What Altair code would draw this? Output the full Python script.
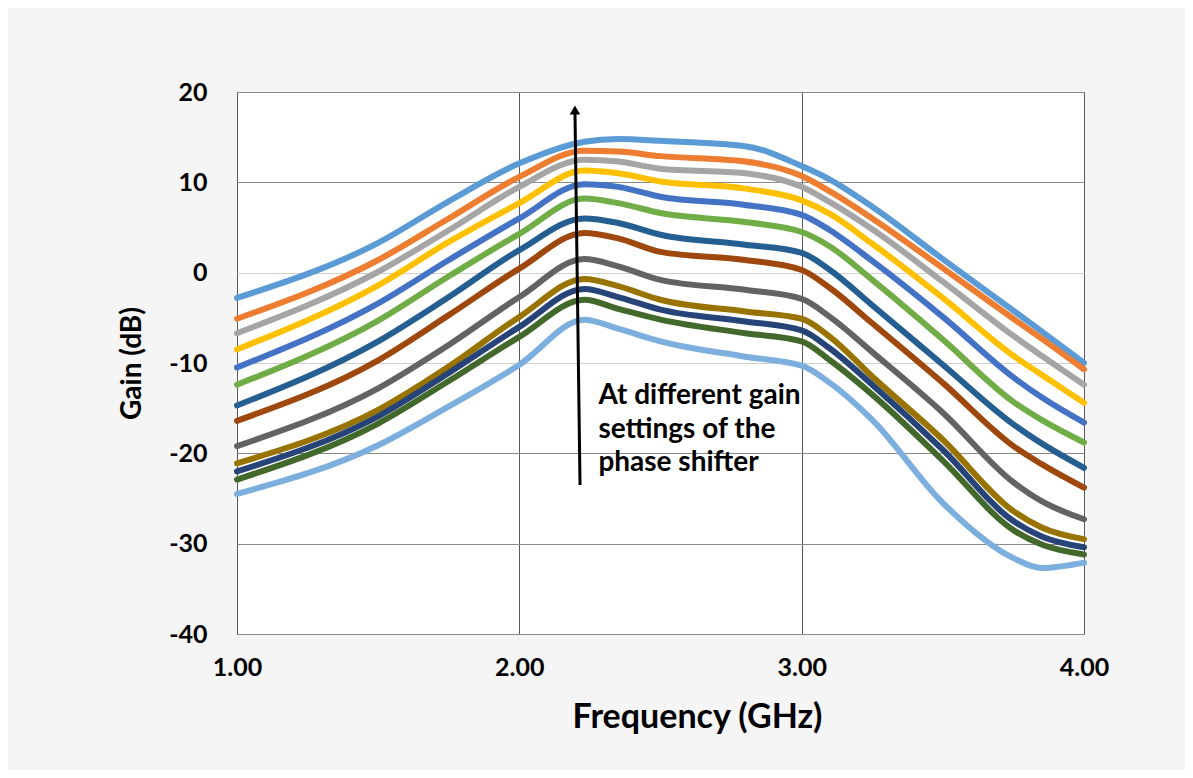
import altair as alt
import pandas as pd

freq = [1.0, 1.5, 1.75, 2.0, 2.23, 2.35, 2.5, 2.8, 3.0, 3.1, 3.25, 3.5, 3.75, 3.85, 4.0]

s01 = [-2.8, 3.3, 7.9, 12.1, 14.5, 14.8, 14.6, 14.0, 11.8, 10.3, 7.3, 1.5, -4.2, -6.5, -10.0]
s02 = [-5.1, 1.4, 6.0, 10.6, 13.5, 13.4, 12.9, 12.3, 10.7, 9.0, 6.0, 0.5, -5.1, -7.3, -10.7]
s03 = [-6.7, 0.1, 4.7, 9.5, 12.5, 12.3, 11.5, 11.0, 9.5, 7.8, 4.8, -1.0, -7.0, -9.2, -12.4]
s04 = [-8.5, -1.4, 3.4, 7.7, 11.3, 11.0, 10.1, 9.3, 8.0, 6.5, 3.2, -2.8, -9.2, -11.3, -14.4]
s05 = [-10.5, -3.4, 1.4, 6.0, 9.8, 9.5, 8.4, 7.5, 6.4, 4.7, 1.3, -4.9, -11.6, -13.8, -16.6]
s06 = [-12.4, -5.3, -0.4, 4.3, 8.2, 7.7, 6.6, 5.6, 4.5, 2.9, -0.8, -7.4, -14.3, -16.3, -18.8]
s07 = [-14.7, -7.6, -2.7, 2.5, 6.0, 5.5, 4.2, 3.1, 2.2, 0.3, -3.6, -10.2, -16.8, -18.9, -21.6]
s08 = [-16.4, -9.7, -4.7, 0.45, 4.4, 3.8, 2.3, 1.4, 0.3, -1.7, -5.6, -12.2, -19.2, -21.2, -23.8]
s09 = [-19.2, -12.8, -8.0, -2.7, 1.5, 0.7, -0.8, -1.9, -2.9, -4.9, -8.8, -15.5, -23.2, -25.3, -27.3]
s10 = [-21.1, -15.2, -10.4, -4.9, -0.7, -1.5, -3.0, -4.3, -5.1, -7.1, -11.5, -18.5, -26.4, -28.2, -29.5]
s11 = [-22.0, -15.9, -11.1, -6.0, -1.8, -2.7, -4.1, -5.4, -6.4, -8.4, -12.4, -19.6, -27.5, -29.2, -30.4]
s12 = [-22.9, -16.7, -12.0, -7.1, -3.0, -4.0, -5.2, -6.7, -7.6, -9.7, -13.5, -20.8, -28.5, -30.1, -31.2]
s13 = [-24.5, -19.1, -14.8, -10.2, -5.2, -6.2, -7.6, -9.3, -10.3, -12.2, -16.3, -25.5, -31.6, -32.7, -32.1]

series = [s01, s02, s03, s04, s05, s06, s07, s08, s09, s10, s11, s12, s13]
names = ["S%02d" % (i + 1) for i in range(len(series))]
colors = ["#5B9BD5", "#ED7D31", "#A5A5A5", "#FFC000", "#4472C4", "#70AD47",
          "#255E91", "#9E480E", "#636363", "#997300", "#264478", "#43682B", "#7CAFDD"]

x_ticks = [1.0, 2.0, 3.0, 4.0]
y_ticks = [20, 10, 0, -10, -20, -30, -40]

arrow_x = [2.215, 2.197]
arrow_y = [-23.5, 18.0]
note_lines = ["At different gain", "settings of the", "phase shifter"]
note_x = 2.28
note_y = [-14.5, -18.3, -22.0]

rows = []
for name, vals in zip(names, series):
    for f, v in zip(freq, vals):
        rows.append({"freq": f, "gain": v, "series": name})
df = pd.DataFrame(rows)

FONT = "Lato"
xscale = alt.Scale(domain=[1, 4], nice=False)
yscale = alt.Scale(domain=[-40, 20], nice=False)

lines = alt.Chart(df).mark_line(strokeWidth=6, interpolate="monotone", strokeCap="round").encode(
    x=alt.X("freq:Q", scale=xscale,
            axis=alt.Axis(values=x_ticks, format=".2f", title="Frequency (GHz)",
                          labelFontSize=25, labelFontWeight="bold", labelColor="black",
                          labelPadding=21, ticks=False, domain=False, labelFlush=False,
                          titleFontSize=34, titleFontWeight="bold", titleColor="black",
                          titlePadding=20, titleX=460, titleFont=FONT, labelFont=FONT,
                          gridColor="#595959", gridWidth=1)),
    y=alt.Y("gain:Q", scale=yscale,
            axis=alt.Axis(values=y_ticks, title="Gain (dB)",
                          labelExpr="datum.value < 0 ? '-' + format(-datum.value, 'd') : format(datum.value, 'd')",
                          labelFontSize=25, labelFontWeight="bold", labelColor="black",
                          labelPadding=30, ticks=False, domain=False,
                          titleFontSize=28, titleFontWeight="bold", titleColor="black",
                          titlePadding=22, titleFont=FONT, labelFont=FONT,
                          gridColor={"condition": {"test": "datum.value == 0 || datum.value == -10",
                                                   "value": "#d0d0d0"},
                                     "value": "#8a8a8a"},
                          gridWidth=1)),
    color=alt.Color("series:N", scale=alt.Scale(domain=names, range=colors), legend=None),
    detail="series:N",
)

arrow_df = pd.DataFrame({"x": arrow_x, "y": arrow_y})
arrow_line = alt.Chart(arrow_df).mark_line(color="black", strokeWidth=3).encode(
    x=alt.X("x:Q", scale=xscale), y=alt.Y("y:Q", scale=yscale))
head_df = pd.DataFrame({"x": [arrow_x[1]], "y": [arrow_y[1]]})
arrow_head = alt.Chart(head_df).mark_point(shape="triangle-up", filled=True, color="black",
                                           size=110, opacity=1).encode(
    x=alt.X("x:Q", scale=xscale), y=alt.Y("y:Q", scale=yscale))

note_df = pd.DataFrame({"x": [note_x] * 3, "y": note_y, "t": note_lines})
note = alt.Chart(note_df).mark_text(align="left", baseline="alphabetic", fontSize=28,
                                    fontWeight="bold", font=FONT, color="black").encode(
    x=alt.X("x:Q", scale=xscale), y=alt.Y("y:Q", scale=yscale), text="t:N")

chart = alt.layer(lines, arrow_line, arrow_head, note).properties(
    width=847, height=542,
    background="#f5f5f5",
    padding={"left": 229, "top": 84, "right": 101, "bottom": 136},
    autosize=alt.AutoSizeParams(type="none"),
).configure_view(fill="white", stroke="#7f7f7f", strokeWidth=1)

chart.save("out.html", embed_options={"renderer": "svg", "actions": False})
